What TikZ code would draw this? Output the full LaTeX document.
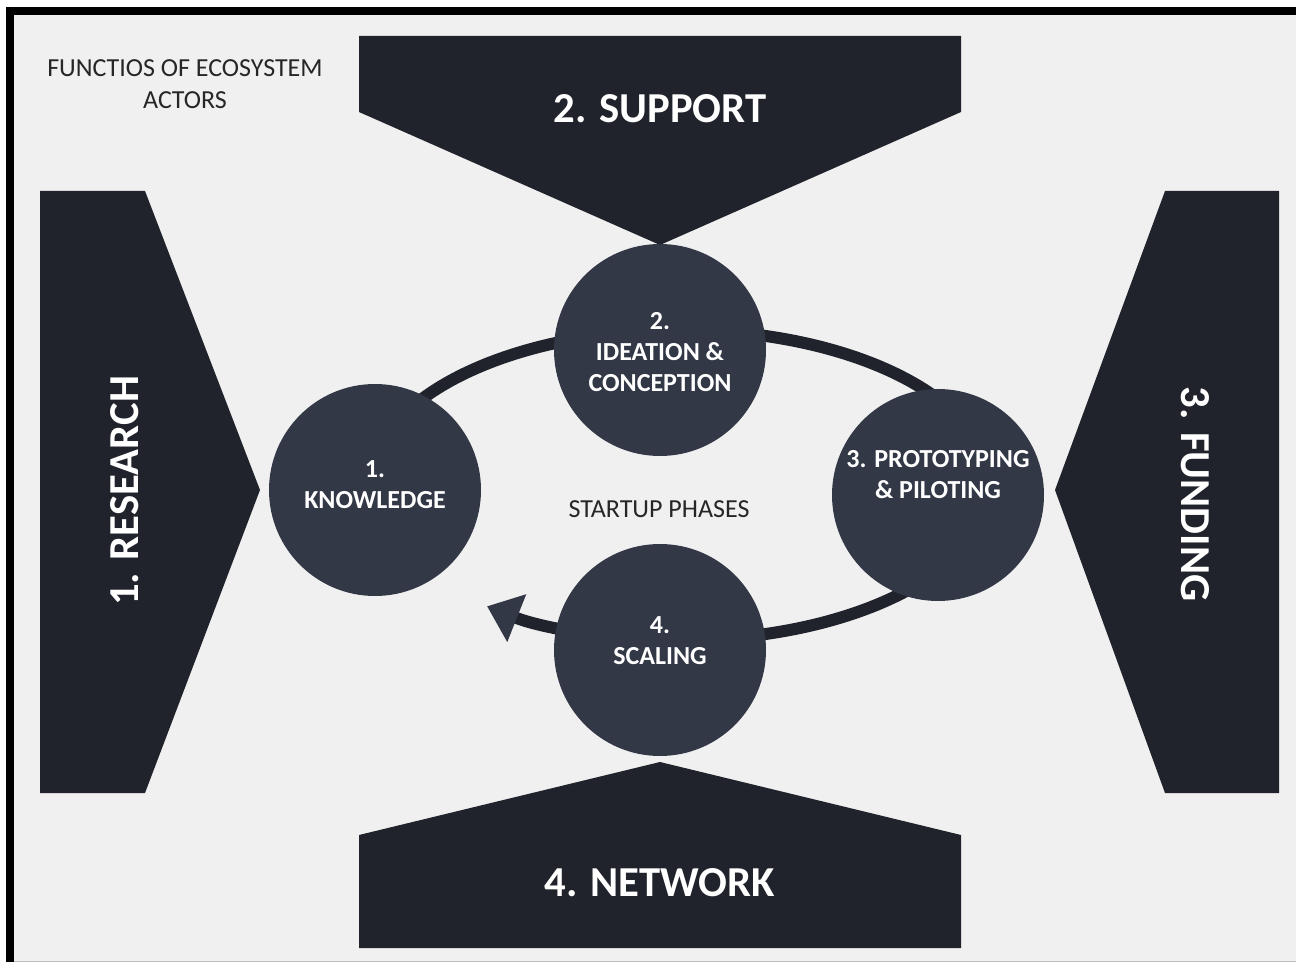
\documentclass[tikz,border=0pt]{standalone}
\usepackage{fontspec}
\setmainfont{Carlito}
\usetikzlibrary{arrows.meta}
\definecolor{bg}{HTML}{F0F0F0}
\definecolor{dark}{HTML}{20232B}
\definecolor{circ}{HTML}{333847}
\definecolor{txt}{HTML}{262626}
\definecolor{edge}{HTML}{BDBDBD}
\begin{document}
\begin{tikzpicture}[x=0.75pt,y=-0.75pt,
  actor/.style={fill=dark},
  bigtext/.style={text=white,font=\fontsize{32}{38}\selectfont\bfseries,inner sep=0pt},
  phase/.style={circle,fill=circ,minimum size=159pt,inner sep=0pt},
  phasetext/.style={text=white,align=center,font=\fontsize{19.5}{23.25}\selectfont\bfseries,inner sep=0pt},
  plaintext/.style={text=txt,align=center,font=\fontsize{19.5}{24}\selectfont,inner sep=0pt},
  ring/.style={draw=dark,line width=9pt}]
\useasboundingbox (0,0) rectangle (1296,962);
\fill[white] (0,0) rectangle (1296,962);
\fill[bg] (10,11) rectangle (1296,962);
\draw[black,line width=6pt] (10,962) -- (10,11) -- (1296,11);
\draw[edge,line width=1pt] (14,961.3) -- (1296,961.3);

% actor shapes
\fill[actor] (359,36) -- (961,36) -- (961,112) -- (660,245) -- (359,112) -- cycle;
\fill[actor] (359,948) -- (961,948) -- (961,835) -- (660,762) -- (359,835) -- cycle;
\fill[actor] (40,191) -- (145,191) -- (260,490) -- (145,793) -- (40,793) -- cycle;
\fill[actor] (1279,191) -- (1165,191) -- (1055,490) -- (1165,793) -- (1279,793) -- cycle;

\node[bigtext] (support) at (660,109) {2. SUPPORT};
\node[bigtext] (network) at (660,883) {4. NETWORK};
\node[bigtext,rotate=90] (research) at (125,491) {1. RESEARCH};
\node[bigtext,rotate=-90] (funding) at (1195,494) {3. FUNDING};

% ring
\coordinate (ringstart) at (370,485);
\draw[ring,-{Triangle[length=24pt,width=37pt,color=circ]}] (ringstart)
  arc[start angle=180,end angle=488.5,x radius=310,y radius=155];

% phases
\node[phase] (p1) at (375,490) {};
\node[phase] (p2) at (660,350) {};
\node[phase] (p3) at (938,495) {};
\node[phase] (p4) at (660,650) {};

\node[phasetext] (t1) at (375,485) {1.\\KNOWLEDGE};
\node[phasetext] (t2) at (660,352) {2.\\IDEATION \&\\CONCEPTION};
\node[phasetext] (t3) at (938,475) {3. PROTOTYPING\\\& PILOTING};
\node[phasetext] (t4) at (660,641) {4.\\SCALING};

\node[plaintext] (title) at (185,84) {FUNCTIOS OF ECOSYSTEM\\ACTORS};
\node[plaintext] (center) at (659,509) {STARTUP PHASES};
\end{tikzpicture}
\end{document}
